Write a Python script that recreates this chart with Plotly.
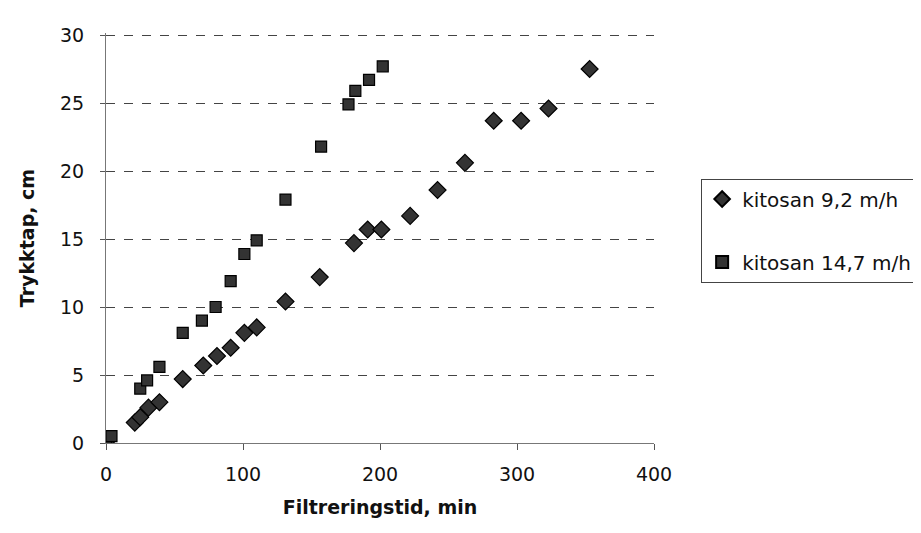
import plotly.graph_objects as go

# kitosan 9,2 m/h (diamonds)
x_92 = [0, 21, 25, 31, 39, 56, 71, 81, 91, 101, 110, 131, 156, 181, 191, 201, 222, 242, 262, 283, 303, 323, 353]
y_92 = [0, 1.5, 1.9, 2.6, 3.0, 4.7, 5.7, 6.4, 7.0, 8.1, 8.5, 10.4, 12.2, 14.7, 15.7, 15.7, 16.7, 18.6, 20.6, 23.7, 23.7, 24.6, 27.5]

# kitosan 14,7 m/h (squares)
x_147 = [0, 4, 25, 30, 39, 56, 70, 80, 91, 101, 110, 131, 157, 177, 182, 192, 202]
y_147 = [0.1, 0.5, 4.0, 4.6, 5.6, 8.1, 9.0, 10.0, 11.9, 13.9, 14.9, 17.9, 21.8, 24.9, 25.9, 26.7, 27.7]

series_names = ["kitosan 9,2 m/h", "kitosan 14,7 m/h"]
x_ticks = [0, 100, 200, 300, 400]
y_ticks = [0, 5, 10, 15, 20, 25, 30]

FONT = "DejaVu Sans, Arial, sans-serif"

fig = go.Figure()
fig.add_trace(go.Scatter(
    x=x_92, y=y_92, mode="markers", name=series_names[0], legendgroup="a",
    marker=dict(symbol="diamond", size=13, color="#333333",
                line=dict(color="#000000", width=1.2)),
))
fig.add_trace(go.Scatter(
    x=x_147, y=y_147, mode="markers", name=series_names[1], legendgroup="b",
    marker=dict(symbol="square", size=11, color="#333333",
                line=dict(color="#000000", width=1.2)),
))

fig.update_layout(
    width=921, height=533,
    margin=dict(l=98, r=275, t=25, b=98),
    paper_bgcolor="white", plot_bgcolor="white",
    font=dict(family=FONT, size=19, color="#111111"),
    showlegend=True,
    legend=dict(
        x=1.086, y=0.645, xanchor="left", yanchor="top",
        bordercolor="#444444", borderwidth=1, bgcolor="white",
        font=dict(family=FONT, size=20, color="#111111"),
        tracegroupgap=34, itemsizing="constant",
    ),
    xaxis=dict(
        range=[0, 400], tickvals=x_ticks, ticktext=[str(v) for v in x_ticks],
        showgrid=False, zeroline=False,
        showline=True, linecolor="#777777", linewidth=1,
        ticks="outside", ticklen=6, tickcolor="#555555",
        ticklabelstandoff=8,
        title=dict(text="<b>Filtreringstid, min</b>", font=dict(family=FONT, size=19), standoff=16),
    ),
    yaxis=dict(
        range=[0, 30.15], tickvals=y_ticks, ticktext=[str(v) for v in y_ticks],
        showgrid=True, gridcolor="#444444", griddash="dash", gridwidth=1,
        zeroline=False,
        showline=True, linecolor="#777777", linewidth=1,
        ticks="outside", ticklen=5, tickcolor="#555555",
        ticklabelstandoff=12,
        title=dict(text="<b>Trykktap, cm</b>", font=dict(family=FONT, size=19), standoff=20),
    ),
)

fig.write_html("out.html")
